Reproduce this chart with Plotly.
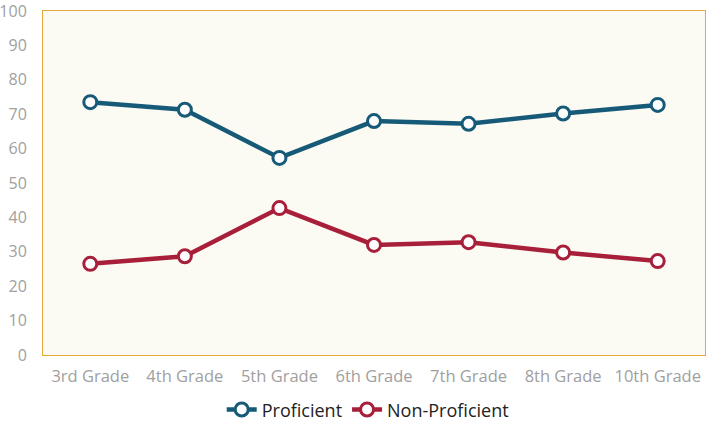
import plotly.graph_objects as go

grades = ["3rd Grade", "4th Grade", "5th Grade", "6th Grade", "7th Grade", "8th Grade", "10th Grade"]
proficient = [73.5, 71.3, 57.3, 68.0, 67.2, 70.2, 72.7]
non_proficient = [26.5, 28.7, 42.7, 32.0, 32.8, 29.8, 27.3]
y_ticks = [0, 10, 20, 30, 40, 50, 60, 70, 80, 90, 100]

fig = go.Figure()
fig.add_trace(go.Scatter(
    x=grades, y=proficient, name="Proficient", mode="lines+markers",
    line=dict(color="#165A78", width=4.5),
    marker=dict(size=13, color="white", line=dict(color="#165A78", width=3)),
))
fig.add_trace(go.Scatter(
    x=grades, y=non_proficient, name="Non-Proficient", mode="lines+markers",
    line=dict(color="#A81F3A", width=4.5),
    marker=dict(size=13, color="white", line=dict(color="#A81F3A", width=3)),
))

fig.update_layout(
    width=714, height=426,
    margin=dict(l=43, r=9, t=11, b=71, autoexpand=False),
    paper_bgcolor="white",
    plot_bgcolor="#FBFAF3",
    font=dict(family="Open Sans, Lato, sans-serif", size=16, color="#A0A0A0"),
    showlegend=True,
    legend=dict(orientation="h", x=0.515, xanchor="center", xref="container",
                y=0.038, yanchor="middle", yref="container",
                font=dict(color="#222222", size=18), itemwidth=30),
    xaxis=dict(range=[-0.5, len(grades) - 0.5], showgrid=False, zeroline=False,
               showline=True, linecolor="#E5A93B",
               linewidth=1, mirror=True, ticks="", tickfont=dict(size=16.5, color="#A0A0A0"),
               automargin=False, ticklabelstandoff=6),
    yaxis=dict(range=[0, 100], tickvals=y_ticks, showgrid=False, zeroline=False,
               showline=True, linecolor="#E5A93B", linewidth=1, mirror=True, ticks="",
               tickfont=dict(size=16, color="#A0A0A0"), ticklabelstandoff=12,
               ticklabeloverflow="allow", automargin=False),
)

fig.write_html("out.html")
